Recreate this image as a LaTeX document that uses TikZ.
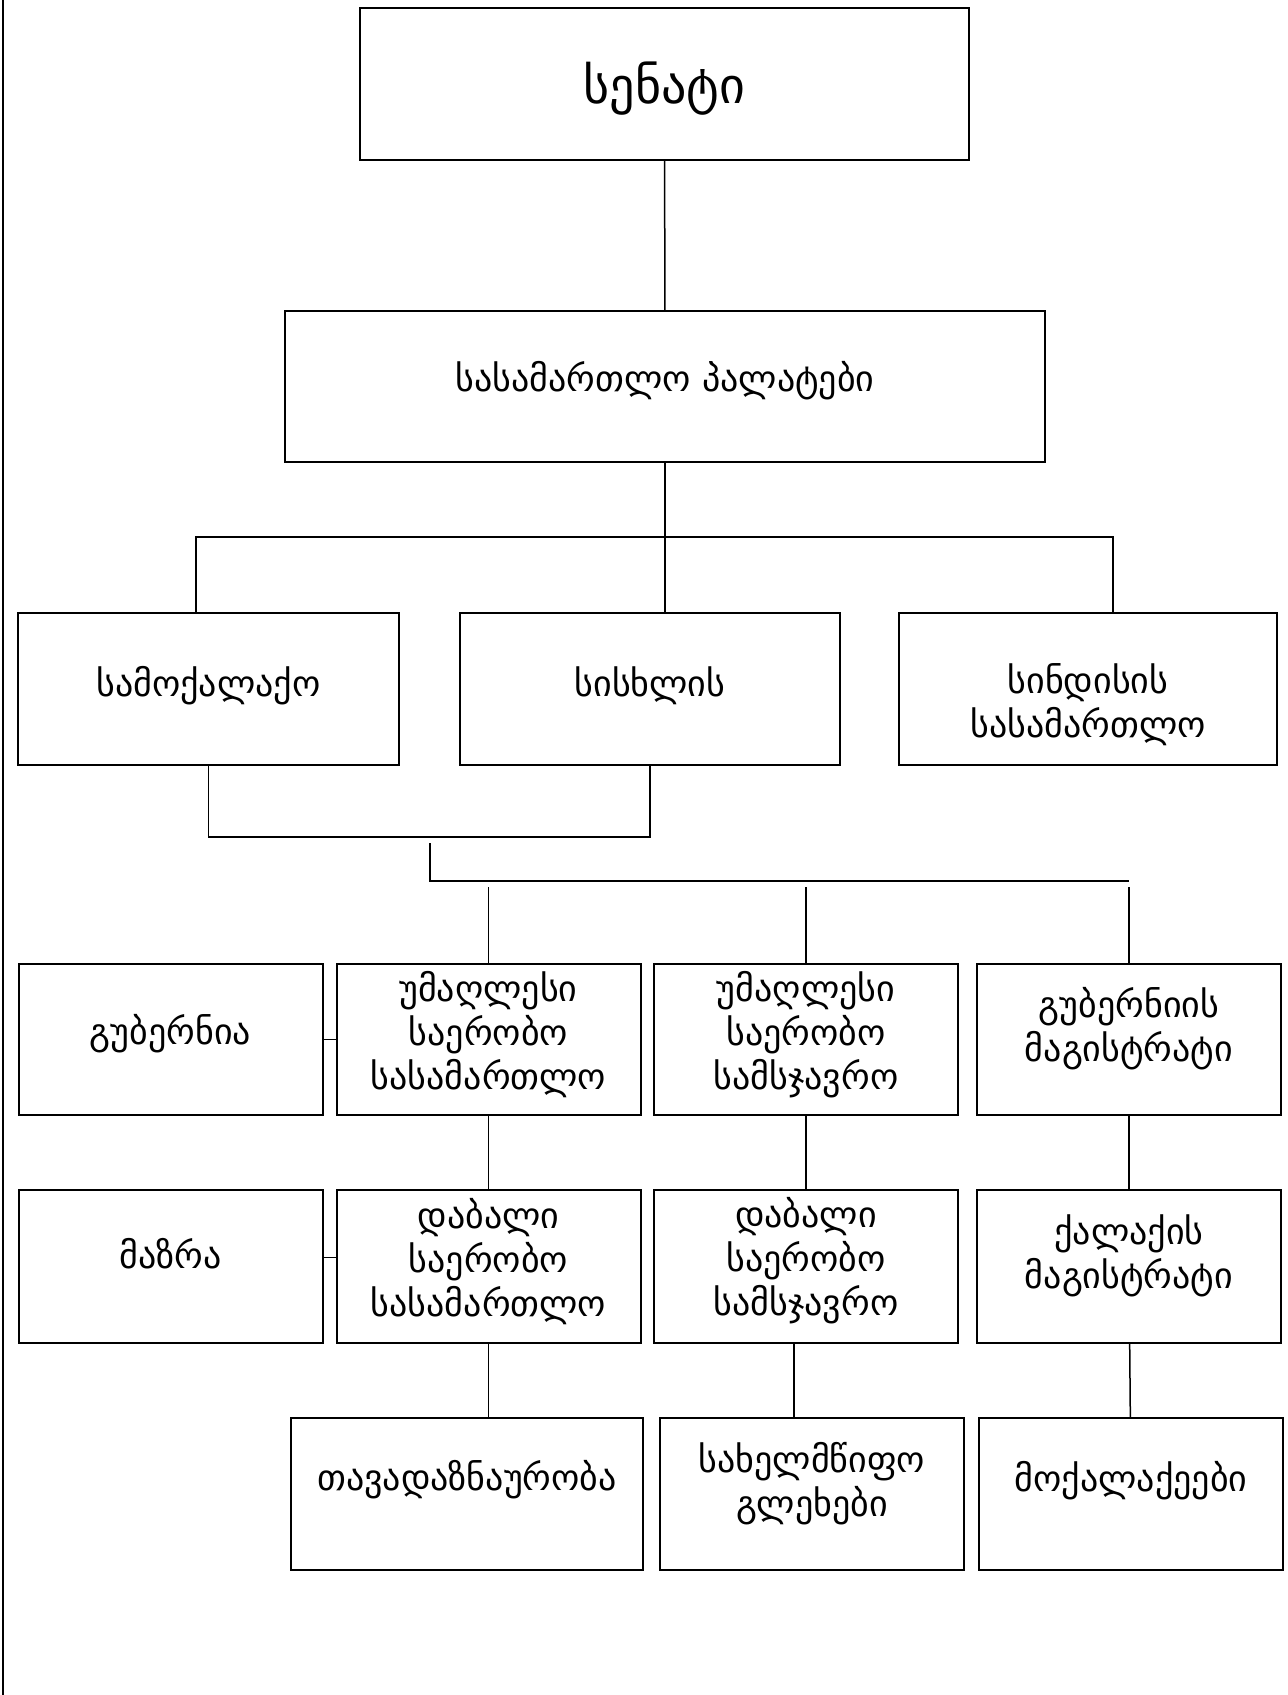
\documentclass[tikz,border=0pt]{standalone}
\usepackage{fontspec}
\setmainfont{DejaVu Sans}
\usepackage{tikz}
\usetikzlibrary{calc}

\begin{document}
\begin{tikzpicture}[x=0.5pt, y=-0.5pt,
    box/.style={draw, line width=1pt, inner sep=0},
    txt/.style={align=center, font=\fontsize{18}{22}\selectfont},
    link/.style={line width=0.75pt}]
        \useasboundingbox (0, 0) rectangle (1287, 1695);
        \draw [link] (3, 0) -- (3, 1695);

        \node [box, minimum width=304.5pt, minimum height=76pt,
          label={[txt, yshift=-2.5pt, font=\fontsize{25}{30}\selectfont]center:სენატი}] (senat) at (664.5, 84) {};
        \node [box, minimum width=380pt, minimum height=75.5pt,
          label={[txt, yshift=2.7pt]center:სასამართლო პალატები}] (palatebi) at (665, 386.5) {};

        \node [box, minimum width=190.5pt, minimum height=76pt,
          label={[txt, yshift=1.6pt]center:სამოქალაქო}] (samoqalaqo) at (208.5, 689) {};
        \node [box, minimum width=190pt, minimum height=76pt,
          label={[txt, yshift=1.6pt]center:სისხლის}] (siskhlis) at (650, 689) {};
        \node [box, minimum width=189pt, minimum height=76pt,
          label={[txt, yshift=-8pt]center:სინდისის\\სასამართლო}] (sindisis) at (1088, 689) {};

        \foreach \n/\x/\s/\t in {gubernia/170.5/2.7/გუბერნია, umsas/488.5/2.5/უმაღლესი\\საერობო\\სასამართლო,
                umsam/806/2.5/უმაღლესი\\საერობო\\სამსჯავრო, gubmag/1129/5.4/გუბერნიის\\მაგისტრატი} {
          \node [box, minimum width=152pt, minimum height=75.5pt,
            label={[txt, yshift=\s pt]center:\t}] (\n) at (\x, 1039.5) {};
        }
        \foreach \n/\x/\s/\t in {mazra/170.5/6.5/მაზრა, dabsas/488.5/2.7/დაბალი\\საერობო\\სასამართლო,
                dabsam/806/2.7/დაბალი\\საერობო\\სამსჯავრო, qalmag/1129/5.4/ქალაქის\\მაგისტრატი} {
          \node [box, minimum width=152pt, minimum height=76.5pt,
            label={[txt, yshift=\s pt]center:\t}] (\n) at (\x, 1266.5) {};
        }

        \node [box, minimum width=176pt, minimum height=76pt,
          label={[txt, yshift=7pt]center:თავადაზნაურობა}] (tavad) at (467, 1494) {};
        \node [box, minimum width=152pt, minimum height=76pt,
          label={[txt, yshift=5.4pt]center:სახელმწიფო\\გლეხები}] (glekhebi) at (812, 1494) {};
        \node [box, minimum width=152pt, minimum height=76pt,
          label={[txt, yshift=6.5pt]center:მოქალაქეები}] (moqalaqeebi) at (1131, 1494) {};

        \coordinate (busL) at (196, 537);
        \coordinate (busR) at (1113, 537);
        \coordinate (hub) at (430, 843);
        \coordinate (hubR) at (1129, 881);

        \draw [link] (senat) -- (palatebi);
        \draw [link] (palatebi.south) -- (palatebi.south |- siskhlis.north);
        \draw [link] (busL |- samoqalaqo.north) -- (busL) -- (busR) -- (busR |- sindisis.north);

        \draw [link] (samoqalaqo.south) -- ++(0, 71) -| (siskhlis.south);
        \draw [link] (hub) -- (hub |- hubR) -- (hubR);
        \foreach \n in {umsas, umsam, gubmag} {
          \draw [link] (\n.north) -- ++(0, -76);
        }

        \draw [link] (gubernia) -- (umsas);
        \draw [link] ([yshift=4.5pt]mazra.east) -- ([yshift=4.5pt]dabsas.west);

        \draw [link] (umsas) -- (dabsas);
        \draw [link] (umsam) -- (dabsam);
        \draw [link] (gubmag) -- (qalmag);

        \draw [link] (dabsas.south) -- (dabsas.south |- tavad.north);
        \draw [link] ([xshift=-6pt]dabsam.south) -- ([xshift=-6pt]dabsam.south |- glekhebi.north);
        \draw [link] (qalmag) -- (moqalaqeebi);
      \end{tikzpicture}
\end{document}
